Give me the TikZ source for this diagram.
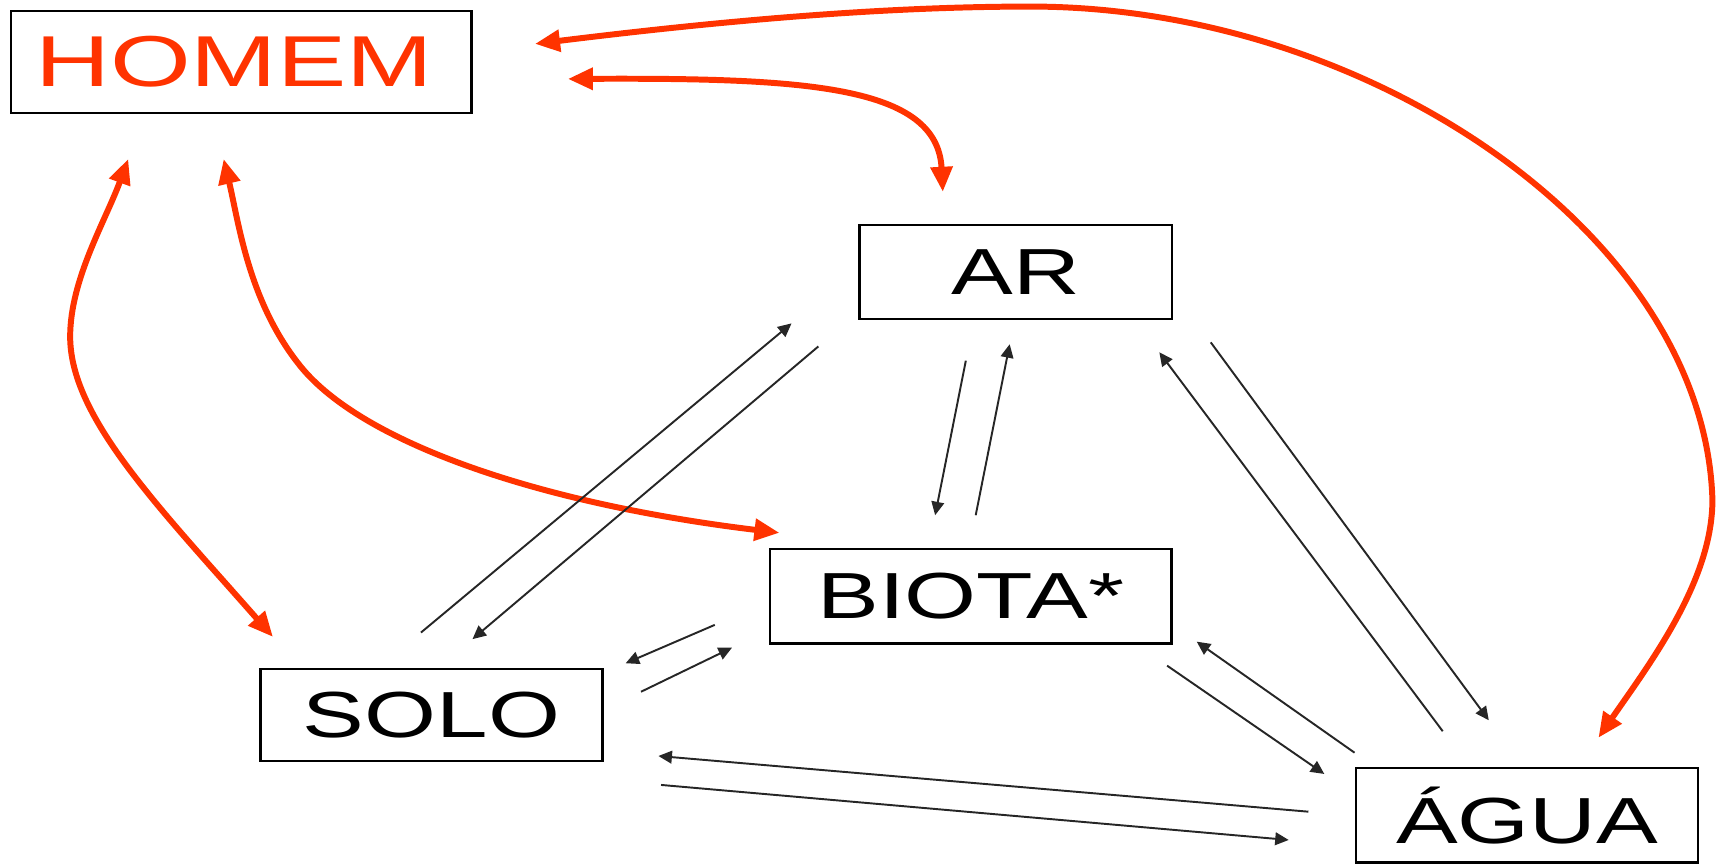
\documentclass[tikz,border=0pt]{standalone}
\usepackage{fontspec}
\setmainfont{Liberation Sans}
\usepackage{graphicx}
\usetikzlibrary{arrows.meta}
\definecolor{hred}{RGB}{255,51,0}
\tikzset{
  box/.style={draw=black, line width=0.6pt, inner sep=0pt, font=\fontsize{16.9}{20}\selectfont},
  flow/.style={black!85, line width=0.5pt, -{Triangle[length=3.5pt,width=3.3pt]}},
  link/.style={hred, line width=1.55pt, {Triangle[length=6.5pt,width=5.5pt]}-{Triangle[length=6.5pt,width=5.5pt]}},
}
\newcommand{\wide}[1]{\scalebox{1.42}[1]{#1}}
\begin{document}
\begin{tikzpicture}[x=0.01cm, y=-0.01cm]
\useasboundingbox (0,0) rectangle (1568,789);
% boxes
\node[box, minimum width=4.2cm, minimum height=0.93cm, text=hred, font=\fontsize{18.7}{22}\selectfont] (homem) at (220,56.4) {\scalebox{1.44}[1]{HOMEM}\hspace*{0.13cm}};
\node[box, minimum width=2.85cm, minimum height=0.86cm] (ar) at (926.5,248) {\wide{AR}};
\node[box, minimum width=3.66cm, minimum height=0.86cm] (biota) at (885.5,544) {\wide{BIOTA*}};
\node[box, minimum width=3.12cm, minimum height=0.84cm] (solo) at (393.6,652) {\wide{SOLO}};
\node[box, minimum width=3.12cm, minimum height=0.86cm] (agua) at (1393,743.6) {\wide{ÁGUA}};
% red connector end points
\coordinate (hA) at (488,40);   \coordinate (aH) at (1458,673);
\coordinate (hR) at (518,72);   \coordinate (rH) at (860,175);
\coordinate (hS) at (117,145);  \coordinate (sH) at (249,581);
\coordinate (hB) at (204,145);  \coordinate (bH) at (711,486);
% red connectors
\draw[link] (hA) .. controls (650,20) and (800,6) .. (940,6)
                 .. controls (1250,6) and (1555,215) .. (1562,456)
                 .. controls (1562,530) and (1505,605) .. (aH);
\draw[link] (hR) .. controls (735,71) and (855,78) .. (rH);
\draw[link] (hS) .. controls (96.3,201.3) and (64,255) .. (64,307)
                 .. controls (64,380) and (143.4,461) .. (sH);
\draw[link] (hB) .. controls (217.8,203.2) and (226.75,275.5) .. (274,334)
                 .. controls (330.7,404.2) and (493,459.6) .. (bH);
% black connector end points
\coordinate (s1) at (384,577);    \coordinate (r1) at (722,295);
\coordinate (r2) at (746.5,316);  \coordinate (s2) at (431,583);
\coordinate (r3) at (881,329);    \coordinate (b3) at (853,470);
\coordinate (b4) at (890,470);    \coordinate (r4) at (921,314);
\coordinate (a5) at (1316,667);   \coordinate (r5) at (1057.5,321.4);
\coordinate (r6) at (1104.4,312.3); \coordinate (a6) at (1358,657);
\coordinate (b7) at (652,570);    \coordinate (s7) at (570.7,605);
\coordinate (s8) at (584.7,631);  \coordinate (b8) at (667.7,590.8);
\coordinate (a9) at (1235.6,686.6); \coordinate (b9) at (1091.6,585.3);
\coordinate (b10) at (1064.6,607.2); \coordinate (a10) at (1208,706);
\coordinate (a11) at (1193.5,740.4); \coordinate (s11) at (600.6,689.6);
\coordinate (s12) at (603,716);   \coordinate (a12) at (1175.5,766.2);
% black connectors
\draw[flow] (s1) -- (r1);
\draw[flow] (r2) -- (s2);
\draw[flow] (r3) -- (b3);
\draw[flow] (b4) -- (r4);
\draw[flow] (a5) -- (r5);
\draw[flow] (r6) -- (a6);
\draw[flow] (b7) -- (s7);
\draw[flow] (s8) -- (b8);
\draw[flow] (a9) -- (b9);
\draw[flow] (b10) -- (a10);
\draw[flow] (a11) -- (s11);
\draw[flow] (s12) -- (a12);
\end{tikzpicture}
\end{document}
